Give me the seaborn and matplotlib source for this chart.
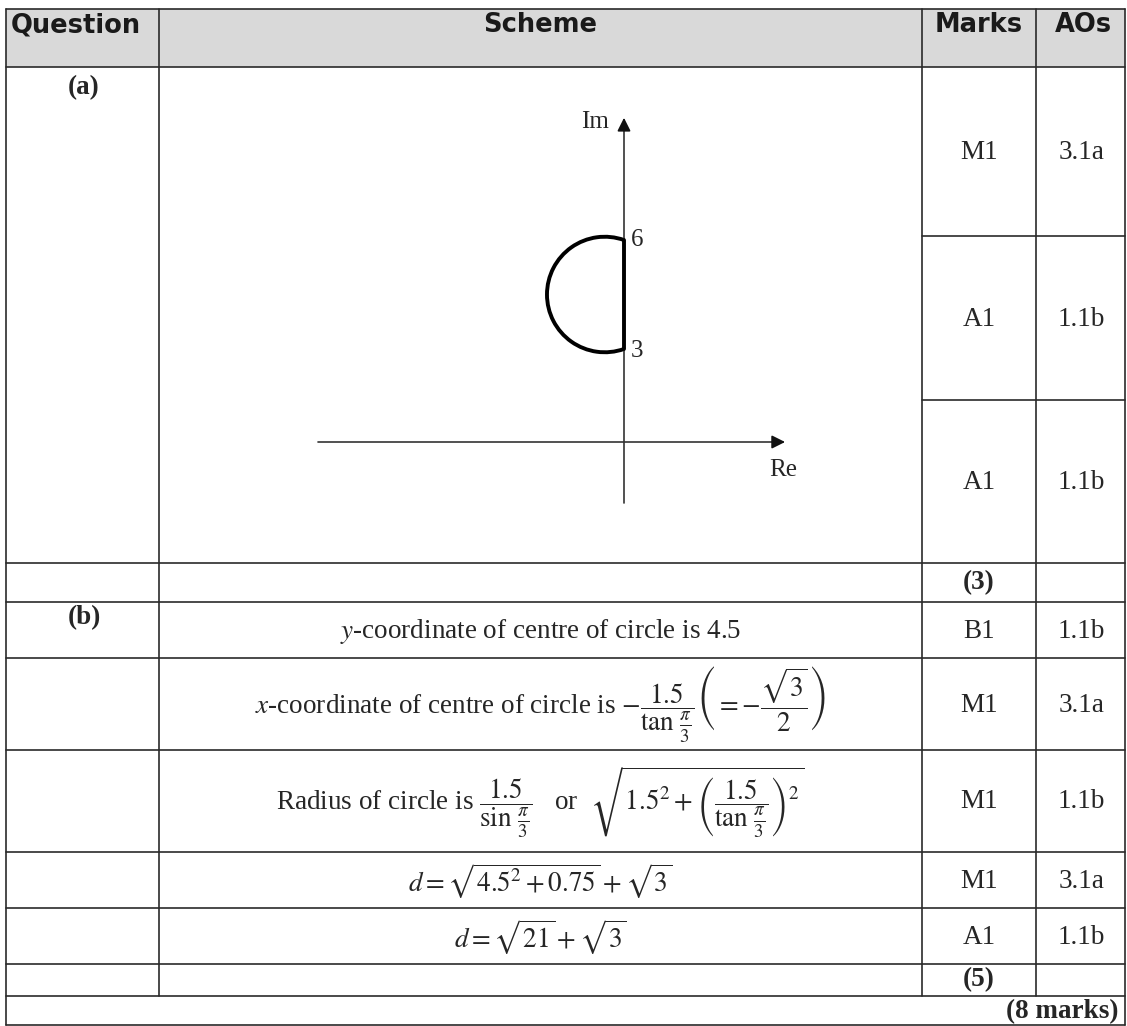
import numpy as np
import pandas as pd
import matplotlib
matplotlib.use("Agg")
import matplotlib.pyplot as plt
from matplotlib.patches import Arc, Rectangle
import seaborn as sns

# ---------------- data ----------------
headers = ["Question", "Scheme", "Marks", "AOs"]
parts = ["(a)", "(b)"]
marks_a = ["M1", "A1", "A1"]
aos_a = ["3.1a", "1.1b", "1.1b"]
total_a = "(3)"
scheme_b = [
    r"$\it{y}$-coordinate of centre of circle is 4.5",
    r"$\it{x}$-coordinate of centre of circle is $-\dfrac{1.5}{\tan\,\frac{\pi}{3}}\left(=-\dfrac{\sqrt{3}}{2}\right)$",
    r"Radius of circle is $\dfrac{1.5}{\sin\,\frac{\pi}{3}}$   or  $\sqrt{1.5^2+\left(\dfrac{1.5}{\tan\,\frac{\pi}{3}}\right)^2}$",
    r"$d=\sqrt{4.5^2+0.75}+\sqrt{3}$",
    r"$d=\sqrt{21}+\sqrt{3}$",
]
marks_b = ["B1", "M1", "M1", "M1", "A1"]
aos_b = ["1.1b", "3.1a", "1.1b", "3.1a", "1.1b"]
total_b = "(5)"
grand_total = "(8 marks)"

# diagram (sketch) values
im_marks = [3, 6]            # ends of the locus on the imaginary axis
centre_sketch = (-0.53, 4.5)  # sketched centre of the arc
radius_sketch = 1.59

# ---------------- layout ----------------
W, H = 1127, 1026
X = [6, 159, 922, 1036, 1125]
Y_TOP, Y_HEAD = 9, 67
Y_A_SUB = [67, 236, 400, 563]
Y_B = [563, 602, 658, 750, 852, 908, 964, 996]
Y_BOT = 1025
LC = "#2a2a2a"
LW = 1.2

sns.set_theme(style="white")
plt.rcParams["font.family"] = ["Liberation Serif", "DejaVu Serif"]
plt.rcParams["mathtext.fontset"] = "stix"

fig = plt.figure(figsize=(W / 100, H / 100), dpi=100)
ax = fig.add_axes([0, 0, 1, 1])
ax.set_xlim(0, W)
ax.set_ylim(H, 0)
ax.axis("off")

# header background
ax.add_patch(Rectangle((X[0], Y_TOP), X[4] - X[0], Y_HEAD - Y_TOP,
                       facecolor="#d9d9d9", edgecolor="none", zorder=0))

# horizontal lines
for y in [Y_TOP, Y_HEAD] + Y_B + [Y_BOT]:
    ax.plot([X[0], X[4]], [y, y], color=LC, lw=LW)
for y in Y_A_SUB[1:3]:
    ax.plot([X[2], X[4]], [y, y], color=LC, lw=LW)
# vertical lines
for x in [X[0], X[4]]:
    ax.plot([x, x], [Y_TOP, Y_BOT], color=LC, lw=LW)
for x in X[1:4]:
    ax.plot([x, x], [Y_TOP, Y_B[-1]], color=LC, lw=LW)

# header text
hx = [76, 540, 979, 1083]
for t, x in zip(headers, hx):
    ax.text(x, 25, t, ha="center", va="center", fontsize=18.5,
            fontweight="bold", family="DejaVu Sans", color="#1a1a1a")

fs = 19.5
col_m = (X[2] + X[3]) / 2
col_a = (X[3] + X[4]) / 2 + 1
sch_c = (X[1] + X[2]) / 2

# part labels
ax.text(84, 88, parts[0], ha="center", va="center", fontsize=fs, fontweight="bold")
ax.text(84, 618, parts[1], ha="center", va="center", fontsize=fs, fontweight="bold")

# (a) marks
for i, (m, a) in enumerate(zip(marks_a, aos_a)):
    yc = (Y_A_SUB[i] + Y_A_SUB[i + 1]) / 2 + 1
    ax.text(col_m, yc, m, ha="center", va="center", fontsize=fs)
    ax.text(col_a, yc, a, ha="center", va="center", fontsize=fs)
ax.text(col_m, (Y_B[0] + Y_B[1]) / 2, total_a, ha="center", va="center",
        fontsize=fs, fontweight="bold")

# (b) rows
for i, (s, m, a) in enumerate(zip(scheme_b, marks_b, aos_b)):
    yc = (Y_B[i + 1] + Y_B[i + 2]) / 2 + 1
    ax.text(sch_c, yc, s, ha="center", va="center", fontsize=fs)
    ax.text(col_m, yc, m, ha="center", va="center", fontsize=fs)
    ax.text(col_a, yc, a, ha="center", va="center", fontsize=fs)
ax.text(col_m, (Y_B[-2] + Y_B[-1]) / 2, total_b, ha="center", va="center",
        fontsize=fs, fontweight="bold")
ax.text(1119, (Y_B[-1] + Y_BOT) / 2 + 1, grand_total, ha="right", va="center",
        fontsize=fs, fontweight="bold")

# ---------------- diagram ----------------
k = 36.33          # px per unit
ox, oy3 = 624, 349  # pixel of (0, 3)
px_l, px_r, py_t, py_b = 290, 830, 90, 530
ax2 = fig.add_axes([px_l / W, 1 - py_b / H, (px_r - px_l) / W, (py_b - py_t) / H])
ax2.set_xlim((px_l - ox) / k, (px_r - ox) / k)
ax2.set_ylim(3 + (oy3 - py_b) / k, 3 + (oy3 - py_t) / k)
ax2.axis("off")
ax2.patch.set_alpha(0)

axc = "#333333"
re_y = 0.44
im_top, im_bot = 9.44, -1.24
re_l, re_r = -8.42, 4.51
ax2.plot([0, 0], [im_bot, im_top - 0.3], color=axc, lw=1.2)
ax2.annotate("", xy=(0, im_top), xytext=(0, im_top - 0.5),
             arrowprops=dict(arrowstyle="-|>", color="#111", lw=1.2, mutation_scale=20))
ax2.plot([re_l, re_r - 0.3], [re_y, re_y], color=axc, lw=1.2)
ax2.annotate("", xy=(re_r, re_y), xytext=(re_r - 0.5, re_y),
             arrowprops=dict(arrowstyle="-|>", color="#111", lw=1.2, mutation_scale=20))

# locus: thick chord on the Im axis and major arc
locus = pd.DataFrame({"x": [0, 0], "y": im_marks})
sns.lineplot(data=locus, x="x", y="y", ax=ax2, color="black", lw=2.8,
             sort=False, estimator=None, solid_capstyle="round")
ang = np.degrees(np.arctan2(im_marks[1] - centre_sketch[1], -centre_sketch[0]))
ax2.add_patch(Arc(centre_sketch, 2 * radius_sketch, 2 * radius_sketch,
                  theta1=ang, theta2=360 - ang, color="black", lw=2.8))

dfs = 18
ax2.text(0.18, im_marks[1] + 0.0, str(im_marks[1]), ha="left", va="center", fontsize=dfs)
ax2.text(0.18, im_marks[0] - 0.05, str(im_marks[0]), ha="left", va="center", fontsize=dfs)
ax2.text(-0.4, (349 - 122) / k + 3, "Im", ha="right", va="center", fontsize=dfs)
ax2.text(4.77, re_y - 0.78, "Re", ha="right", va="center", fontsize=dfs)

fig.savefig("out.png", dpi=100, facecolor="white")
